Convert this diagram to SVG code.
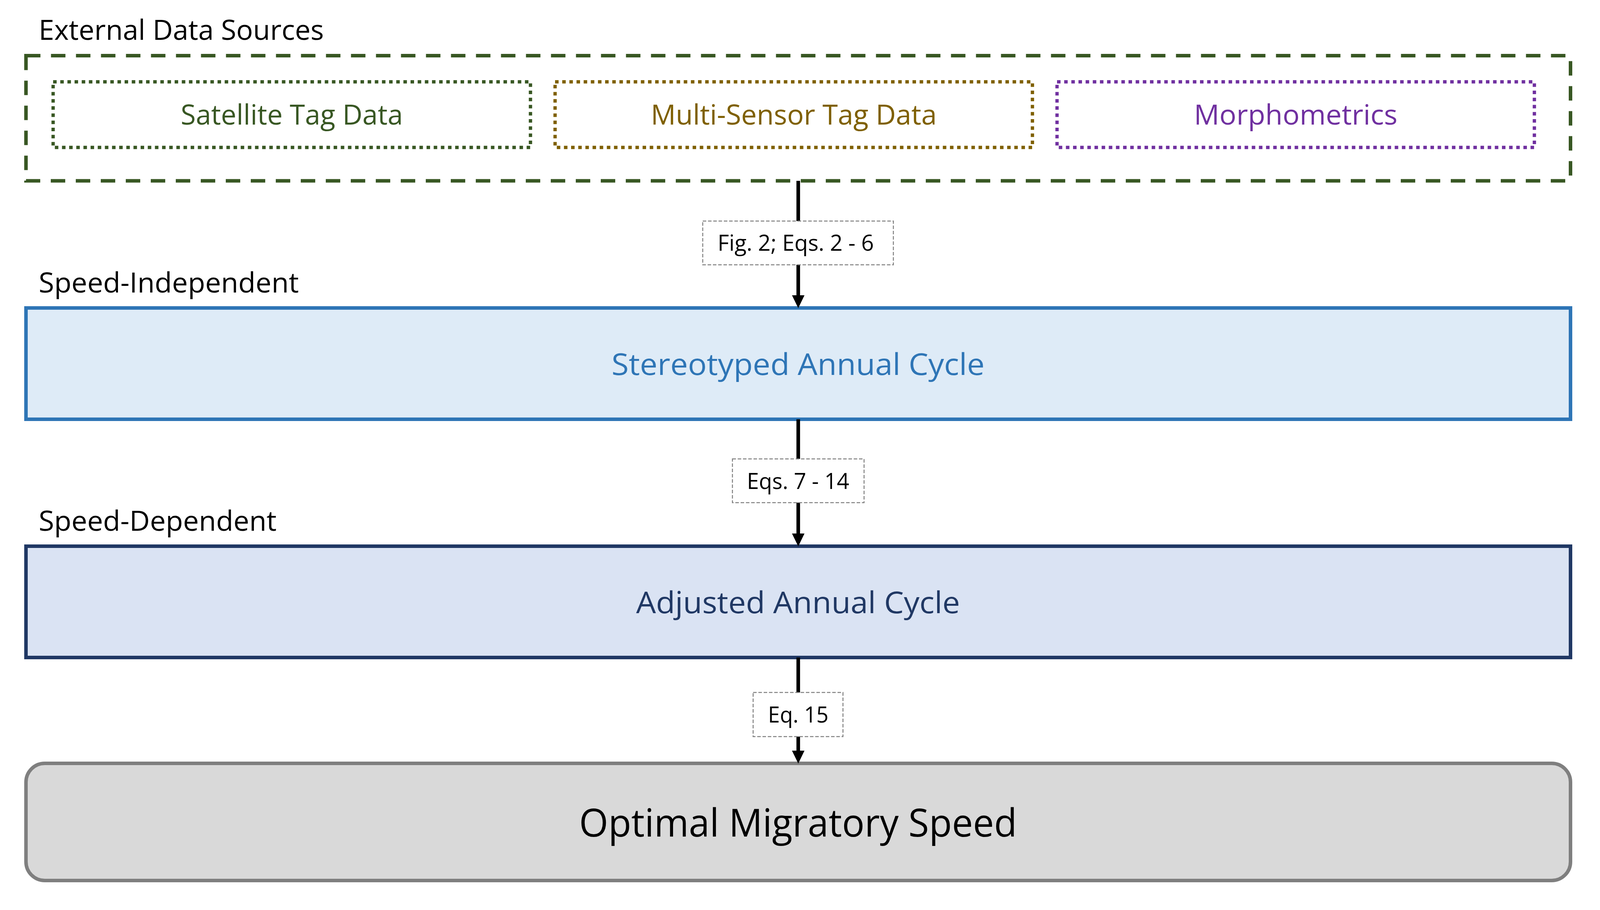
<svg xmlns="http://www.w3.org/2000/svg" width="4125" height="2330" viewBox="0 0 4125 2330">
<defs>
<style>
text { font-family: "Open Sans", "Liberation Sans", sans-serif; }
.section { font-size: 72px; fill: #000000; }
.src { font-size: 72px; text-anchor: middle; }
.main { font-size: 76px; text-anchor: middle; }
.big { font-size: 98px; text-anchor: middle; fill: #000000; }
.lbl { font-size: 56px; text-anchor: middle; fill: #000000; }
.lblbox { fill: #ffffff; stroke: #7f7f7f; stroke-width: 2.5; stroke-dasharray: 9 4.5; }
.dot { fill: none; stroke-width: 8.5; stroke-dasharray: 9 9.3; }
.conn { stroke: #000000; stroke-width: 9.3; fill: none; marker-end: url(#ah); }
</style>
<marker id="ah" markerUnits="userSpaceOnUse" markerWidth="34" markerHeight="34" viewBox="0 0 34 34" refX="0" refY="17" orient="auto">
<path d="M0,1 L33,17 L0,33 Z" fill="#000000"/>
</marker>
</defs>
<rect width="4125" height="2330" fill="#ffffff"/>

<g id="external-data-sources">
<text class="section" x="99" y="102" textLength="730" lengthAdjust="spacingAndGlyphs">External Data Sources</text>
<rect x="66.5" y="142.5" width="3954" height="320.5" fill="none" stroke="#385723" stroke-width="9" stroke-dasharray="37 27"/>
</g>

<g id="satellite-tag-data">
<rect class="dot" x="136" y="209.5" width="1222" height="168" stroke="#385723"/>
<text class="src" x="747" y="319" fill="#385723" textLength="569" lengthAdjust="spacingAndGlyphs">Satellite Tag Data</text>
</g>

<g id="multi-sensor-tag-data">
<rect class="dot" x="1421" y="209.5" width="1222" height="168" stroke="#7f6000"/>
<text class="src" x="2032" y="319" fill="#7f6000" textLength="732" lengthAdjust="spacingAndGlyphs">Multi-Sensor Tag Data</text>
</g>

<g id="morphometrics">
<rect class="dot" x="2706" y="209.5" width="1222" height="168" stroke="#7030a0"/>
<text class="src" x="3317" y="319" fill="#7030a0" textLength="521" lengthAdjust="spacingAndGlyphs">Morphometrics</text>
</g>

<g id="speed-independent-label">
<text class="section" x="99" y="749" textLength="666" lengthAdjust="spacingAndGlyphs">Speed-Independent</text>
</g>

<g id="stereotyped-annual-cycle">
<rect x="66.5" y="788.5" width="3954" height="285" fill="#deebf7" stroke="#2e75b6" stroke-width="9"/>
<text class="main" x="2043" y="960" fill="#2e75b6" textLength="955" lengthAdjust="spacingAndGlyphs">Stereotyped Annual Cycle</text>
</g>

<g id="speed-dependent-label">
<text class="section" x="99" y="1359" textLength="609" lengthAdjust="spacingAndGlyphs">Speed-Dependent</text>
</g>

<g id="adjusted-annual-cycle">
<rect x="66.5" y="1398.5" width="3954" height="285" fill="#dae3f3" stroke="#203864" stroke-width="9"/>
<text class="main" x="2043" y="1570" fill="#203864" textLength="829" lengthAdjust="spacingAndGlyphs">Adjusted Annual Cycle</text>
</g>

<g id="optimal-migratory-speed">
<rect x="66.5" y="1954.5" width="3954" height="300" rx="48" ry="48" fill="#d9d9d9" stroke="#7f7f7f" stroke-width="9"/>
<text class="big" x="2043" y="2142" textLength="1121" lengthAdjust="spacingAndGlyphs">Optimal Migratory Speed</text>
</g>

<g id="connectors">
<path class="conn" d="M2043.5,463 V756"/>
<path class="conn" d="M2043.5,1073.5 V1366"/>
<path class="conn" d="M2043.5,1683.5 V1922"/>
</g>

<g id="label-fig2-eqs2-6">
<rect class="lblbox" x="1799" y="566" width="488" height="112"/>
<text class="lbl" x="2037" y="642" textLength="400" lengthAdjust="spacingAndGlyphs">Fig. 2; Eqs. 2 - 6</text>
</g>

<g id="label-eqs7-14">
<rect class="lblbox" x="1875" y="1175" width="337" height="112"/>
<text class="lbl" x="2043" y="1252" textLength="262" lengthAdjust="spacingAndGlyphs">Eqs. 7 - 14</text>
</g>

<g id="label-eq15">
<rect class="lblbox" x="1928" y="1773" width="230" height="113"/>
<text class="lbl" x="2043.5" y="1850" textLength="155" lengthAdjust="spacingAndGlyphs">Eq. 15</text>
</g>
</svg>
